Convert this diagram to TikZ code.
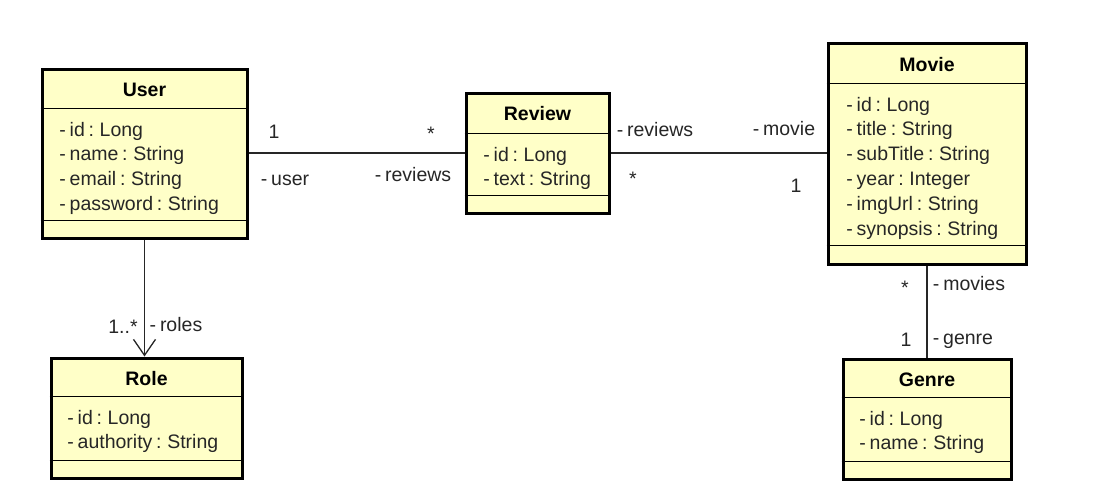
\documentclass[tikz,border=0pt]{standalone}
\usepackage{fontspec}
\setmainfont[WordSpace=0.7]{Liberation Sans}
\usetikzlibrary{positioning, arrows.meta}
\definecolor{classfill}{HTML}{FFFFC8}
\definecolor{ink}{HTML}{262626}

\begin{document}
\begin{tikzpicture}[x=0.5pt,y=-0.5pt,
    font=\fontsize{9.75}{12}\selectfont,
    classbox/.style={draw, line width=1.5pt, fill=classfill, inner sep=0pt},
    sepline/.style={line width=0.5pt},
    classname/.style={font=\fontsize{9.75}{12}\selectfont\bfseries, anchor=base, inner sep=0pt},
    attr/.style={anchor=base west, inner sep=0pt, text=ink},
    assoc/.style={line width=0.65pt, draw=ink},
    lbl/.style={anchor=base, inner sep=0pt, text=ink}]
  \useasboundingbox (0,0) rectangle (1108,499);

  % classes
  \node[classbox, minimum width=102.5pt, minimum height=84.5pt] (user) at (144.5,153.5) {};
  \node[classbox, minimum width=71.5pt, minimum height=60pt] (review) at (537.5,153) {};
  \node[classbox, minimum width=99pt, minimum height=110.5pt] (movie) at (927,153.5) {};
  \node[classbox, minimum width=95.5pt, minimum height=60pt] (role) at (146.5,418) {};
  \node[classbox, minimum width=84pt, minimum height=60pt] (genre) at (927,419) {};

  % compartments
  \draw[sepline] (user.west |- 0,108) -- (user.east |- 0,108);
  \draw[sepline] (user.west |- 0,220) -- (user.east |- 0,220);
  \draw[sepline] (review.west |- 0,133) -- (review.east |- 0,133);
  \draw[sepline] (review.west |- 0,195) -- (review.east |- 0,195);
  \draw[sepline] (movie.west |- 0,83) -- (movie.east |- 0,83);
  \draw[sepline] (movie.west |- 0,245) -- (movie.east |- 0,245);
  \draw[sepline] (role.west |- 0,396) -- (role.east |- 0,396);
  \draw[sepline] (role.west |- 0,460) -- (role.east |- 0,460);
  \draw[sepline] (genre.west |- 0,397) -- (genre.east |- 0,397);
  \draw[sepline] (genre.west |- 0,461) -- (genre.east |- 0,461);

  % names
  \node[classname] (user-name) at (user.north |- 0,96) {User};
  \node[classname] (review-name) at (review.north |- 0,120) {Review};
  \node[classname] (movie-name) at (movie.north |- 0,71) {Movie};
  \node[classname] (role-name) at (role.north |- 0,385) {Role};
  \node[classname] (genre-name) at (genre.north |- 0,386) {Genre};

  % attributes
  \foreach \a [count=\i from 0] in {- id : Long, - name : String, - email : String, - password : String}
    \node[attr] (user-a\i) at (59,136+\i*24.8) {\a};
  \foreach \a [count=\i from 0] in {- id : Long, - text : String}
    \node[attr] (review-a\i) at (483,161+\i*24.8) {\a};
  \foreach \a [count=\i from 0] in {- id : Long, - title : String, - subTitle : String, - year : Integer, - imgUrl : String, - synopsis : String}
    \node[attr] (movie-a\i) at (846,111+\i*24.8) {\a};
  \foreach \a [count=\i from 0] in {- id : Long, - authority : String}
    \node[attr] (role-a\i) at (67,424+\i*24.8) {\a};
  \foreach \a [count=\i from 0] in {- id : Long, - name : String}
    \node[attr] (genre-a\i) at (859,425+\i*24.8) {\a};

  % associations
  \draw[assoc] (user.east |- review.west) -- (review.west);
  \draw[assoc] (review.east) -- (movie.west |- review.east);
  \draw[assoc, -{Straight Barb[length=8pt, width=11pt]}] (user.south) -- (user.south |- role.north);
  \draw[assoc] (movie.south) -- (genre.north);

  % ends
  \node[lbl] (ur-1) at (274,138) {1};
  \node[lbl] (ur-s) at (431,140) {*};
  \node[lbl] (ur-user) at (285,185) {- user};
  \node[lbl] (ur-reviews) at (413,181) {- reviews};
  \node[lbl] (rm-reviews) at (655,136) {- reviews};
  \node[lbl] (rm-movie) at (784,135) {- movie};
  \node[lbl] (rm-s) at (633,185) {*};
  \node[lbl] (rm-1) at (796,192) {1};
  \node[lbl] (ro-m) at (123,333) {1..*};
  \node[lbl] (ro-roles) at (176,331) {- roles};
  \node[lbl] (mg-s) at (905,294) {*};
  \node[lbl] (mg-movies) at (969,290) {- movies};
  \node[lbl] (mg-1) at (906,346) {1};
  \node[lbl] (mg-genre) at (963,344) {- genre};
\end{tikzpicture}
\end{document}
